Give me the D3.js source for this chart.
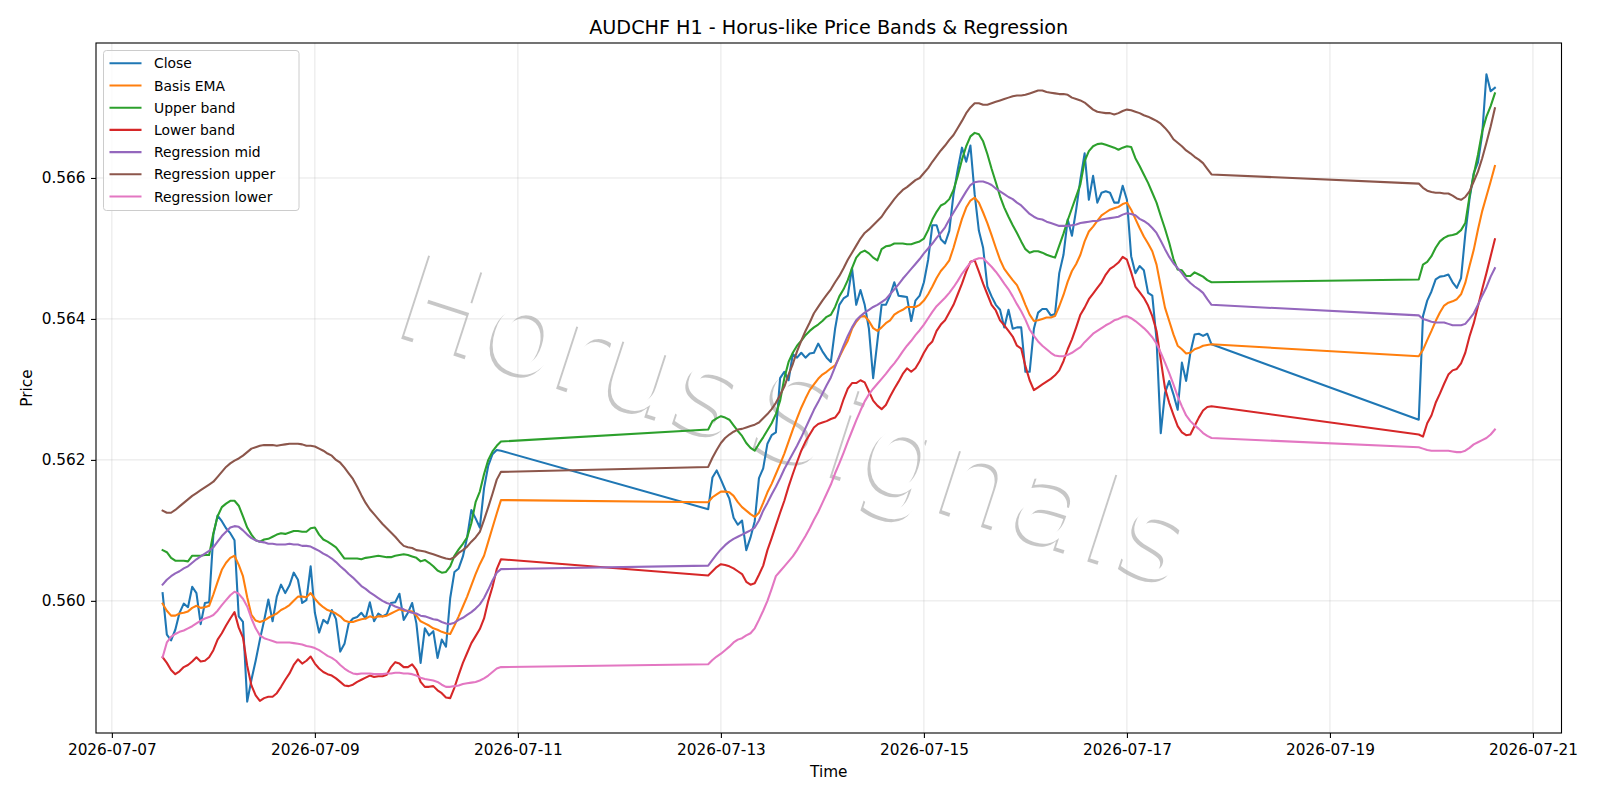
<!DOCTYPE html>
<html>
<head>
<meta charset="utf-8">
<script src="https://cdn.jsdelivr.net/npm/d3@7"></script>
<style>
  body { margin: 0; background: #fff; }
  svg text { font-family: "DejaVu Sans", sans-serif; }
</style>
</head>
<body>
<div id="chart"></div>
<script>
// ---------------- data (hourly bars) ----------------
// three trading sessions, weekend gaps are joined by a straight line
var sessionStarts = ["2026-07-07 12:00", "2026-07-12 21:00", "2026-07-19 21:00"];
var sessionBars = [81, 120, 19];

var closePrice = [
  // session 1
  0.56011, 0.55952, 0.55944, 0.55959, 0.55983, 0.55996, 0.55991, 0.56020, 0.56011, 0.55967,
  0.55997, 0.55998, 0.56094, 0.56121, 0.56113, 0.56103, 0.56096, 0.56086, 0.55978, 0.55970,
  0.55857, 0.55888, 0.55915, 0.55945, 0.55972, 0.56002, 0.55971, 0.56006, 0.56023, 0.56011,
  0.56022, 0.56040, 0.56030, 0.55997, 0.56001, 0.56049, 0.55983, 0.55955, 0.55973, 0.55968,
  0.55987, 0.55974, 0.55928, 0.55939, 0.55968, 0.55975, 0.55977, 0.55983, 0.55975, 0.55998,
  0.55971, 0.55982, 0.55978, 0.55981, 0.55997, 0.55998, 0.56010, 0.55973, 0.55983, 0.55997,
  0.55968, 0.55912, 0.55961, 0.55951, 0.55957, 0.55919, 0.55945, 0.55935, 0.56004, 0.56041,
  0.56046, 0.56063, 0.56090, 0.56129, 0.56117, 0.56104, 0.56160, 0.56192, 0.56208, 0.56214,
  0.56213,
  // session 2
  0.56130, 0.56175, 0.56185, 0.56172, 0.56158, 0.56145, 0.56118, 0.56108, 0.56114, 0.56072,
  0.56090, 0.56113, 0.56174, 0.56188, 0.56223, 0.56235, 0.56239, 0.56316, 0.56325, 0.56313,
  0.56350, 0.56345, 0.56352, 0.56345, 0.56351, 0.56352, 0.56365, 0.56354, 0.56345, 0.56339,
  0.56386, 0.56420, 0.56429, 0.56433, 0.56472, 0.56420, 0.56441, 0.56420, 0.56386, 0.56316,
  0.56368, 0.56420, 0.56420, 0.56433, 0.56452, 0.56433, 0.56432, 0.56431, 0.56397, 0.56426,
  0.56433, 0.56452, 0.56484, 0.56533, 0.56533, 0.56513, 0.56507, 0.56525, 0.56577, 0.56612,
  0.56643, 0.56623, 0.56646, 0.56577, 0.56525, 0.56501, 0.56446, 0.56432, 0.56420, 0.56413,
  0.56388, 0.56413, 0.56386, 0.56388, 0.56388, 0.56325, 0.56325, 0.56386, 0.56409, 0.56414,
  0.56414, 0.56405, 0.56407, 0.56465, 0.56491, 0.56541, 0.56518, 0.56555, 0.56598, 0.56635,
  0.56569, 0.56603, 0.56565, 0.56579, 0.56581, 0.56579, 0.56565, 0.56565, 0.56589, 0.56569,
  0.56489, 0.56465, 0.56475, 0.56469, 0.56437, 0.56433, 0.56371, 0.56238, 0.56295, 0.56312,
  0.56293, 0.56271, 0.56338, 0.56312, 0.56352, 0.56378, 0.56379, 0.56376, 0.56379, 0.56364,
  // session 3
  0.56257, 0.56404, 0.56426, 0.56439, 0.56456, 0.56460, 0.56461, 0.56463, 0.56452, 0.56444,
  0.56458, 0.56520, 0.56570, 0.56607, 0.56622, 0.56662, 0.56747, 0.56723, 0.56728
];

var basisEma = [
  0.55996, 0.55986, 0.55979, 0.55979, 0.55982, 0.55983, 0.55985, 0.55990, 0.55993, 0.55990,
  0.55991, 0.55993, 0.56009, 0.56027, 0.56044, 0.56054, 0.56061, 0.56064, 0.56051, 0.56035,
  0.56005, 0.55980, 0.55972, 0.55970, 0.55972, 0.55976, 0.55979, 0.55982, 0.55987, 0.55990,
  0.55994, 0.56000, 0.56006, 0.56006, 0.56005, 0.56011, 0.56003, 0.55996, 0.55991, 0.55987,
  0.55985, 0.55982, 0.55978, 0.55972, 0.55970, 0.55970, 0.55972, 0.55974, 0.55975, 0.55978,
  0.55976, 0.55978, 0.55978, 0.55979, 0.55982, 0.55985, 0.55988, 0.55986, 0.55986, 0.55985,
  0.55979, 0.55971, 0.55968, 0.55965, 0.55961, 0.55959, 0.55956, 0.55954, 0.55953, 0.55965,
  0.55978, 0.55992, 0.56006, 0.56022, 0.56038, 0.56052, 0.56064, 0.56084, 0.56104, 0.56124,
  0.56143,
  0.56140, 0.56147, 0.56151, 0.56155, 0.56155, 0.56154, 0.56149, 0.56140, 0.56133, 0.56128,
  0.56123, 0.56119, 0.56125, 0.56139, 0.56154, 0.56166, 0.56180, 0.56194, 0.56209, 0.56226,
  0.56243, 0.56259, 0.56274, 0.56287, 0.56299, 0.56307, 0.56315, 0.56321, 0.56325, 0.56330,
  0.56334, 0.56346, 0.56358, 0.56369, 0.56386, 0.56396, 0.56403, 0.56404, 0.56397, 0.56387,
  0.56383, 0.56388, 0.56394, 0.56398, 0.56406, 0.56410, 0.56413, 0.56417, 0.56417, 0.56417,
  0.56420, 0.56426, 0.56435, 0.56446, 0.56458, 0.56468, 0.56475, 0.56483, 0.56501, 0.56522,
  0.56542, 0.56558, 0.56568, 0.56572, 0.56565, 0.56551, 0.56536, 0.56519, 0.56501, 0.56484,
  0.56471, 0.56463, 0.56455, 0.56448, 0.56435, 0.56420, 0.56406, 0.56397, 0.56398, 0.56400,
  0.56402, 0.56402, 0.56404, 0.56418, 0.56434, 0.56453, 0.56468, 0.56478, 0.56491, 0.56510,
  0.56524, 0.56531, 0.56539, 0.56547, 0.56551, 0.56555, 0.56557, 0.56559, 0.56563, 0.56565,
  0.56555, 0.56542, 0.56529, 0.56517, 0.56507, 0.56496, 0.56477, 0.56446, 0.56416, 0.56397,
  0.56378, 0.56362, 0.56357, 0.56351, 0.56352, 0.56357, 0.56359, 0.56362, 0.56363, 0.56364,
  0.56347, 0.56356, 0.56370, 0.56383, 0.56397, 0.56409, 0.56419, 0.56423, 0.56425, 0.56428,
  0.56435, 0.56451, 0.56475, 0.56498, 0.56527, 0.56553, 0.56574, 0.56595, 0.56617
];

var upperBand = [
  0.56072, 0.56069, 0.56061, 0.56057, 0.56057, 0.56057, 0.56056, 0.56064, 0.56064, 0.56064,
  0.56065, 0.56065, 0.56096, 0.56120, 0.56133, 0.56138, 0.56142, 0.56142, 0.56135, 0.56120,
  0.56104, 0.56094, 0.56086, 0.56084, 0.56087, 0.56088, 0.56091, 0.56094, 0.56096, 0.56095,
  0.56097, 0.56099, 0.56099, 0.56098, 0.56098, 0.56103, 0.56104, 0.56094, 0.56087, 0.56084,
  0.56080, 0.56076, 0.56068, 0.56060, 0.56060, 0.56060, 0.56060, 0.56059, 0.56061, 0.56062,
  0.56063, 0.56064, 0.56063, 0.56062, 0.56062, 0.56064, 0.56065, 0.56066, 0.56065, 0.56063,
  0.56061, 0.56056, 0.56058, 0.56054, 0.56049, 0.56043, 0.56040, 0.56041, 0.56049, 0.56064,
  0.56073, 0.56081, 0.56090, 0.56110, 0.56140, 0.56155, 0.56180, 0.56200, 0.56212, 0.56220,
  0.56226,
  0.56243, 0.56255, 0.56259, 0.56262, 0.56260, 0.56257, 0.56249, 0.56241, 0.56234, 0.56224,
  0.56217, 0.56213, 0.56223, 0.56232, 0.56242, 0.56252, 0.56265, 0.56284, 0.56316, 0.56339,
  0.56352, 0.56362, 0.56369, 0.56377, 0.56383, 0.56388, 0.56392, 0.56397, 0.56403, 0.56406,
  0.56417, 0.56432, 0.56442, 0.56455, 0.56472, 0.56487, 0.56494, 0.56497, 0.56493, 0.56487,
  0.56483, 0.56499, 0.56503, 0.56504, 0.56507, 0.56507, 0.56507, 0.56506, 0.56506, 0.56508,
  0.56510, 0.56514, 0.56526, 0.56541, 0.56552, 0.56561, 0.56564, 0.56570, 0.56583, 0.56603,
  0.56626, 0.56645, 0.56659, 0.56664, 0.56662, 0.56652, 0.56634, 0.56613, 0.56594, 0.56574,
  0.56558, 0.56545, 0.56533, 0.56522, 0.56510, 0.56499, 0.56494, 0.56496, 0.56496, 0.56494,
  0.56491, 0.56489, 0.56487, 0.56504, 0.56521, 0.56540, 0.56557, 0.56574, 0.56591, 0.56624,
  0.56638, 0.56645, 0.56648, 0.56649, 0.56647, 0.56645, 0.56643, 0.56640, 0.56643, 0.56645,
  0.56644, 0.56628, 0.56617, 0.56605, 0.56593, 0.56579, 0.56565, 0.56546, 0.56528, 0.56508,
  0.56485, 0.56470, 0.56469, 0.56461, 0.56461, 0.56466, 0.56463, 0.56460, 0.56455, 0.56452,
  0.56456, 0.56477, 0.56481, 0.56489, 0.56501, 0.56510, 0.56515, 0.56518, 0.56519, 0.56521,
  0.56526, 0.56536, 0.56574, 0.56605, 0.56633, 0.56666, 0.56687, 0.56702, 0.56720
];

var lowerBand = [
  0.55920, 0.55912, 0.55902, 0.55896, 0.55900, 0.55906, 0.55909, 0.55914, 0.55920, 0.55914,
  0.55915, 0.55920, 0.55930, 0.55945, 0.55954, 0.55965, 0.55975, 0.55984, 0.55962, 0.55948,
  0.55908, 0.55880, 0.55866, 0.55858, 0.55862, 0.55864, 0.55864, 0.55869, 0.55878, 0.55888,
  0.55897, 0.55909, 0.55917, 0.55911, 0.55915, 0.55921, 0.55911, 0.55904, 0.55899, 0.55896,
  0.55894, 0.55890, 0.55885, 0.55880, 0.55879, 0.55881, 0.55885, 0.55888, 0.55891, 0.55894,
  0.55892, 0.55893, 0.55893, 0.55895, 0.55906, 0.55913, 0.55911, 0.55906, 0.55906, 0.55910,
  0.55902, 0.55885, 0.55878, 0.55878, 0.55879, 0.55873, 0.55869, 0.55863, 0.55862, 0.55877,
  0.55895, 0.55912, 0.55926, 0.55940, 0.55950, 0.55960, 0.55975, 0.56000, 0.56020, 0.56045,
  0.56059,
  0.56036, 0.56042, 0.56048, 0.56052, 0.56051, 0.56049, 0.56046, 0.56042, 0.56038, 0.56027,
  0.56023, 0.56025, 0.56037, 0.56050, 0.56072, 0.56089, 0.56107, 0.56125, 0.56142, 0.56162,
  0.56180, 0.56197, 0.56213, 0.56226, 0.56236, 0.56246, 0.56251, 0.56253, 0.56255, 0.56258,
  0.56260, 0.56268, 0.56286, 0.56301, 0.56309, 0.56309, 0.56313, 0.56310, 0.56297, 0.56284,
  0.56277, 0.56272, 0.56278, 0.56290, 0.56301, 0.56311, 0.56322, 0.56330, 0.56325, 0.56330,
  0.56340, 0.56352, 0.56362, 0.56368, 0.56383, 0.56392, 0.56398, 0.56409, 0.56420, 0.56435,
  0.56450, 0.56467, 0.56481, 0.56483, 0.56467, 0.56450, 0.56435, 0.56420, 0.56412, 0.56398,
  0.56391, 0.56383, 0.56375, 0.56362, 0.56358, 0.56333, 0.56313, 0.56299, 0.56303, 0.56307,
  0.56311, 0.56315, 0.56320, 0.56327, 0.56340, 0.56357, 0.56371, 0.56388, 0.56406, 0.56416,
  0.56428, 0.56436, 0.56444, 0.56452, 0.56463, 0.56471, 0.56475, 0.56480, 0.56488, 0.56484,
  0.56466, 0.56446, 0.56438, 0.56430, 0.56419, 0.56404, 0.56383, 0.56342, 0.56302, 0.56281,
  0.56264, 0.56248, 0.56239, 0.56235, 0.56236, 0.56248, 0.56260, 0.56270, 0.56275, 0.56276,
  0.56236, 0.56233, 0.56252, 0.56263, 0.56281, 0.56294, 0.56308, 0.56321, 0.56327, 0.56329,
  0.56337, 0.56352, 0.56375, 0.56394, 0.56418, 0.56442, 0.56465, 0.56489, 0.56513
];

var regMid = [
  0.56023, 0.56030, 0.56035, 0.56039, 0.56042, 0.56046, 0.56049, 0.56054, 0.56059, 0.56063,
  0.56067, 0.56071, 0.56076, 0.56084, 0.56092, 0.56098, 0.56104, 0.56106, 0.56105, 0.56100,
  0.56094, 0.56089, 0.56086, 0.56084, 0.56083, 0.56081, 0.56081, 0.56080, 0.56080, 0.56080,
  0.56081, 0.56080, 0.56080, 0.56078, 0.56078, 0.56077, 0.56074, 0.56071, 0.56067, 0.56064,
  0.56060, 0.56055, 0.56049, 0.56044, 0.56038, 0.56033, 0.56027, 0.56021, 0.56017, 0.56012,
  0.56008, 0.56004, 0.56000, 0.55997, 0.55995, 0.55992, 0.55990, 0.55988, 0.55985, 0.55983,
  0.55982, 0.55979, 0.55978, 0.55976, 0.55974, 0.55973, 0.55970, 0.55968, 0.55967, 0.55969,
  0.55973, 0.55976, 0.55980, 0.55984, 0.55989, 0.55995, 0.56004, 0.56016, 0.56029, 0.56040,
  0.56045,
  0.56050, 0.56058, 0.56066, 0.56073, 0.56079, 0.56084, 0.56088, 0.56091, 0.56094, 0.56097,
  0.56100, 0.56104, 0.56114, 0.56128, 0.56139, 0.56151, 0.56162, 0.56174, 0.56187, 0.56198,
  0.56209, 0.56220, 0.56232, 0.56245, 0.56258, 0.56271, 0.56282, 0.56294, 0.56306, 0.56317,
  0.56332, 0.56347, 0.56362, 0.56376, 0.56388, 0.56398, 0.56404, 0.56409, 0.56413, 0.56417,
  0.56420, 0.56424, 0.56428, 0.56435, 0.56442, 0.56449, 0.56457, 0.56464, 0.56471, 0.56478,
  0.56485, 0.56493, 0.56500, 0.56507, 0.56515, 0.56522, 0.56530, 0.56541, 0.56551, 0.56561,
  0.56571, 0.56581, 0.56590, 0.56594, 0.56595, 0.56595, 0.56593, 0.56590, 0.56585, 0.56581,
  0.56577, 0.56573, 0.56570, 0.56565, 0.56561, 0.56555, 0.56549, 0.56545, 0.56542, 0.56541,
  0.56538, 0.56536, 0.56534, 0.56532, 0.56532, 0.56532, 0.56533, 0.56534, 0.56536, 0.56537,
  0.56538, 0.56539, 0.56539, 0.56541, 0.56542, 0.56543, 0.56544, 0.56545, 0.56548, 0.56550,
  0.56549, 0.56547, 0.56542, 0.56539, 0.56535, 0.56529, 0.56522, 0.56511, 0.56499, 0.56488,
  0.56479, 0.56472, 0.56465, 0.56457, 0.56451, 0.56446, 0.56442, 0.56437, 0.56428, 0.56420,
  0.56405, 0.56400, 0.56398, 0.56396, 0.56395, 0.56395, 0.56395, 0.56393, 0.56391, 0.56391,
  0.56391, 0.56393, 0.56400, 0.56408, 0.56420, 0.56433, 0.56445, 0.56460, 0.56472
];

var regUpper = [
  0.56128, 0.56125, 0.56125, 0.56129, 0.56134, 0.56139, 0.56144, 0.56149, 0.56153, 0.56157,
  0.56161, 0.56165, 0.56169, 0.56176, 0.56183, 0.56190, 0.56195, 0.56199, 0.56202, 0.56206,
  0.56211, 0.56216, 0.56218, 0.56220, 0.56221, 0.56221, 0.56221, 0.56220, 0.56221, 0.56222,
  0.56223, 0.56223, 0.56223, 0.56222, 0.56220, 0.56220, 0.56219, 0.56216, 0.56213, 0.56209,
  0.56206, 0.56200, 0.56196, 0.56189, 0.56181, 0.56173, 0.56162, 0.56150, 0.56139, 0.56130,
  0.56123, 0.56116, 0.56109, 0.56103, 0.56097, 0.56091, 0.56084, 0.56078, 0.56076, 0.56075,
  0.56072, 0.56071, 0.56070, 0.56068, 0.56066, 0.56064, 0.56062, 0.56060, 0.56059, 0.56062,
  0.56068, 0.56072, 0.56077, 0.56084, 0.56090, 0.56098, 0.56115, 0.56133, 0.56152, 0.56172,
  0.56183,
  0.56190, 0.56203, 0.56214, 0.56224, 0.56231, 0.56236, 0.56240, 0.56243, 0.56244, 0.56246,
  0.56248, 0.56250, 0.56253, 0.56259, 0.56265, 0.56272, 0.56281, 0.56292, 0.56304, 0.56321,
  0.56336, 0.56354, 0.56369, 0.56383, 0.56395, 0.56408, 0.56417, 0.56426, 0.56434, 0.56442,
  0.56452, 0.56461, 0.56472, 0.56484, 0.56494, 0.56504, 0.56514, 0.56522, 0.56527, 0.56533,
  0.56539, 0.56545, 0.56554, 0.56562, 0.56570, 0.56577, 0.56583, 0.56587, 0.56592, 0.56597,
  0.56600, 0.56607, 0.56614, 0.56623, 0.56631, 0.56639, 0.56646, 0.56654, 0.56661, 0.56671,
  0.56681, 0.56692, 0.56700, 0.56706, 0.56706, 0.56704, 0.56704, 0.56706, 0.56708, 0.56710,
  0.56712, 0.56714, 0.56716, 0.56717, 0.56717, 0.56718, 0.56720, 0.56722, 0.56724, 0.56724,
  0.56722, 0.56721, 0.56720, 0.56719, 0.56719, 0.56718, 0.56714, 0.56712, 0.56710, 0.56707,
  0.56702, 0.56697, 0.56694, 0.56693, 0.56692, 0.56692, 0.56690, 0.56692, 0.56695, 0.56697,
  0.56696, 0.56694, 0.56692, 0.56689, 0.56687, 0.56684, 0.56681, 0.56677, 0.56671, 0.56664,
  0.56655, 0.56650, 0.56645, 0.56639, 0.56635, 0.56630, 0.56626, 0.56621, 0.56613, 0.56605,
  0.56592, 0.56586, 0.56582, 0.56580, 0.56579, 0.56579, 0.56578, 0.56578, 0.56575, 0.56571,
  0.56569, 0.56573, 0.56581, 0.56595, 0.56609, 0.56628, 0.56650, 0.56673, 0.56699
];

var regLower = [
  0.55920, 0.55941, 0.55949, 0.55953, 0.55956, 0.55958, 0.55961, 0.55964, 0.55968, 0.55972,
  0.55975, 0.55977, 0.55980, 0.55986, 0.55994, 0.56001, 0.56008, 0.56013, 0.56010, 0.56003,
  0.55992, 0.55975, 0.55961, 0.55951, 0.55947, 0.55945, 0.55943, 0.55941, 0.55941, 0.55941,
  0.55941, 0.55940, 0.55939, 0.55938, 0.55936, 0.55935, 0.55933, 0.55930, 0.55926, 0.55922,
  0.55919, 0.55915, 0.55909, 0.55904, 0.55900, 0.55897, 0.55896, 0.55897, 0.55897, 0.55897,
  0.55896, 0.55896, 0.55896, 0.55897, 0.55897, 0.55898, 0.55898, 0.55897, 0.55897, 0.55896,
  0.55894, 0.55891, 0.55889, 0.55888, 0.55887, 0.55885, 0.55881, 0.55878, 0.55878, 0.55879,
  0.55880, 0.55882, 0.55883, 0.55884, 0.55885, 0.55887, 0.55890, 0.55894, 0.55899, 0.55904,
  0.55906,
  0.55910, 0.55916, 0.55921, 0.55925, 0.55930, 0.55935, 0.55941, 0.55945, 0.55947, 0.55951,
  0.55954, 0.55961, 0.55973, 0.55986, 0.56000, 0.56017, 0.56035, 0.56042, 0.56049, 0.56056,
  0.56063, 0.56072, 0.56082, 0.56092, 0.56103, 0.56115, 0.56126, 0.56139, 0.56152, 0.56165,
  0.56181, 0.56195, 0.56210, 0.56226, 0.56241, 0.56256, 0.56270, 0.56283, 0.56293, 0.56301,
  0.56308, 0.56315, 0.56322, 0.56330, 0.56337, 0.56345, 0.56354, 0.56362, 0.56369, 0.56377,
  0.56384, 0.56392, 0.56401, 0.56410, 0.56418, 0.56424, 0.56430, 0.56437, 0.56445, 0.56454,
  0.56464, 0.56472, 0.56480, 0.56484, 0.56486, 0.56486, 0.56480, 0.56474, 0.56467, 0.56459,
  0.56450, 0.56442, 0.56432, 0.56421, 0.56411, 0.56399, 0.56385, 0.56376, 0.56368, 0.56362,
  0.56357, 0.56352, 0.56348, 0.56347, 0.56347, 0.56349, 0.56352, 0.56356, 0.56360, 0.56367,
  0.56373, 0.56379, 0.56383, 0.56387, 0.56391, 0.56394, 0.56398, 0.56400, 0.56403, 0.56404,
  0.56401, 0.56397, 0.56392, 0.56387, 0.56381, 0.56374, 0.56365, 0.56352, 0.56338, 0.56323,
  0.56307, 0.56290, 0.56276, 0.56263, 0.56255, 0.56249, 0.56244, 0.56238, 0.56234, 0.56231,
  0.56218, 0.56216, 0.56214, 0.56213, 0.56213, 0.56213, 0.56213, 0.56213, 0.56212, 0.56211,
  0.56211, 0.56213, 0.56217, 0.56222, 0.56225, 0.56228, 0.56231, 0.56236, 0.56243
];

var seriesNames = ["Close", "Basis EMA", "Upper band", "Lower band",
  "Regression mid", "Regression upper", "Regression lower"];
var xTickDays = ["2026-07-07", "2026-07-09", "2026-07-11", "2026-07-13",
  "2026-07-15", "2026-07-17", "2026-07-19", "2026-07-21"];
var yTickValues = [0.560, 0.562, 0.564, 0.566];

// ---------------- layout ----------------
var width = 1600, height = 800;
var plotLeft = 96, plotRight = 1561.5, plotTop = 43, plotBottom = 733;
var colors = ["#1f77b4", "#ff7f0e", "#2ca02c", "#d62728", "#9467bd", "#8c564b", "#e377c2"];
var lineW = 2.08;
var tickFont = 15.3, titleFont = 19.2, legendFont = 13.9;

// hourly time stamps for every bar
var parseTime = d3.timeParse("%Y-%m-%d %H:%M");
var times = [];
sessionStarts.forEach(function(s, i) {
  var t0 = parseTime(s);
  for (var h = 0; h < sessionBars[i]; h++) times.push(d3.timeHour.offset(t0, h));
});

var allSeries = [closePrice, basisEma, upperBand, lowerBand, regMid, regUpper, regLower];
var series = allSeries.map(function(vals, i) {
  return { name: seriesNames[i], color: colors[i],
    points: vals.map(function(v, j) { return { t: times[j], v: v }; }) };
});

var svg = d3.select("#chart").append("svg")
  .attr("width", width).attr("height", height);
svg.append("rect").attr("width", width).attr("height", height).attr("fill", "#fff");

// scales with 5% padding like matplotlib autoscale
var tExt = d3.extent(times);
var tPad = (tExt[1] - tExt[0]) * 0.05;
var xScale = d3.scaleTime()
  .domain([new Date(+tExt[0] - tPad), new Date(+tExt[1] + tPad)])
  .range([plotLeft, plotRight]);

var vExt = d3.extent(d3.merge(allSeries));
var vPad = (vExt[1] - vExt[0]) * 0.05;
var yScale = d3.scaleLinear()
  .domain([vExt[0] - vPad, vExt[1] + vPad])
  .range([plotBottom, plotTop]);

var parseDay = d3.timeParse("%Y-%m-%d");
var xTicks = xTickDays.map(parseDay);

// watermark (white glyph with a grey drop shadow)
function watermark(tx, ty, fill, opacity) {
  var t = svg.append("text")
    .attr("transform", "translate(" + tx + "," + ty + ") rotate(18)")
    .attr("font-size", 120)
    .attr("fill", fill)
    .attr("fill-opacity", opacity);
  t.append("tspan").text("Horus");
  t.append("tspan").attr("dx", 20).attr("letter-spacing", 3).text("Signals");
}
watermark(390, 335, "#999", 0.55);
watermark(393, 332, "#fff", 1);

// grid
var grid = svg.append("g").attr("stroke", "#b0b0b0").attr("stroke-opacity", 0.32).attr("stroke-width", 1);
grid.selectAll("line.gx").data(xTicks).enter().append("line")
  .attr("x1", function(d) { return xScale(d); }).attr("x2", function(d) { return xScale(d); })
  .attr("y1", plotTop).attr("y2", plotBottom);
grid.selectAll("line.gy").data(yTickValues).enter().append("line")
  .attr("x1", plotLeft).attr("x2", plotRight)
  .attr("y1", function(d) { return yScale(d); }).attr("y2", function(d) { return yScale(d); });

// lines
var line = d3.line()
  .x(function(d) { return xScale(d.t); })
  .y(function(d) { return yScale(d.v); });

svg.append("g").selectAll("path").data(series).enter().append("path")
  .attr("d", function(d) { return line(d.points); })
  .attr("fill", "none")
  .attr("stroke", function(d) { return d.color; })
  .attr("stroke-width", lineW)
  .attr("stroke-linejoin", "round")
  .attr("stroke-linecap", "square");

// axes
var xAxis = svg.append("g")
  .attr("transform", "translate(0," + plotBottom + ")")
  .call(d3.axisBottom(xScale).tickValues(xTicks)
    .tickFormat(d3.timeFormat("%Y-%m-%d")).tickSize(5).tickPadding(6));
var yAxis = svg.append("g")
  .attr("transform", "translate(" + plotLeft + ",0)")
  .call(d3.axisLeft(yScale).tickValues(yTickValues)
    .tickFormat(d3.format(".3f")).tickSize(5).tickPadding(5.5));
[xAxis, yAxis].forEach(function(g) {
  g.select(".domain").remove();
  g.attr("font-family", "DejaVu Sans").attr("font-size", tickFont);
  g.selectAll(".tick line").attr("stroke", "#000").attr("stroke-width", 1.1);
  g.selectAll(".tick text").attr("fill", "#000");
});

// frame
svg.append("rect")
  .attr("x", plotLeft).attr("y", plotTop)
  .attr("width", plotRight - plotLeft).attr("height", plotBottom - plotTop)
  .attr("fill", "none").attr("stroke", "#000").attr("stroke-width", 1.1);

// title and labels
svg.append("text")
  .attr("x", (plotLeft + plotRight) / 2).attr("y", 34)
  .attr("text-anchor", "middle").attr("font-size", titleFont)
  .text("AUDCHF H1 - Horus-like Price Bands & Regression");
svg.append("text")
  .attr("x", (plotLeft + plotRight) / 2).attr("y", 777)
  .attr("text-anchor", "middle").attr("font-size", tickFont)
  .text("Time");
svg.append("text")
  .attr("transform", "translate(32," + ((plotTop + plotBottom) / 2) + ") rotate(-90)")
  .attr("text-anchor", "middle").attr("font-size", tickFont)
  .text("Price");

// legend
var legend = svg.append("g");
legend.append("rect")
  .attr("x", 103.5).attr("y", 50.5).attr("width", 195.5).attr("height", 160)
  .attr("rx", 3).attr("fill", "#fff").attr("fill-opacity", 0.8)
  .attr("stroke", "#cccccc").attr("stroke-width", 1);
var items = legend.selectAll("g.item").data(series).enter().append("g")
  .attr("transform", function(d, i) { return "translate(0," + (63.3 + i * 22.2) + ")"; });
items.append("line")
  .attr("x1", 109.5).attr("x2", 141.5).attr("y1", 0).attr("y2", 0)
  .attr("stroke", function(d) { return d.color; }).attr("stroke-width", lineW);
items.append("text")
  .attr("x", 154).attr("y", 0).attr("dy", "0.36em")
  .attr("font-size", legendFont).attr("fill", "#000")
  .text(function(d) { return d.name; });
</script>
</body>
</html>
